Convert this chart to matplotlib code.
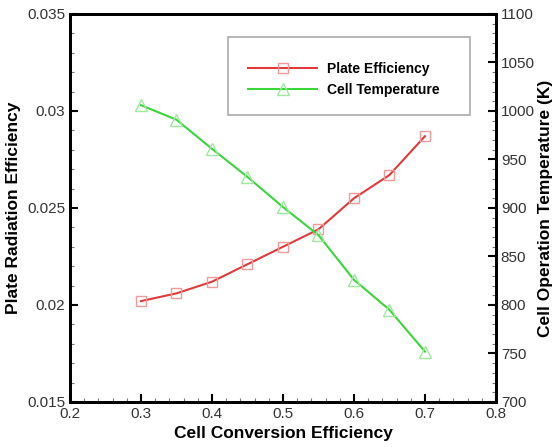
import matplotlib
matplotlib.use('Agg')
from matplotlib import pyplot as plt
from matplotlib.patches import Rectangle
from matplotlib.ticker import MultipleLocator

conversion = [0.3, 0.35, 0.4, 0.45, 0.5, 0.55, 0.6, 0.65, 0.7]
plate_eff = [0.0202, 0.0206, 0.0212, 0.0221, 0.0230, 0.0239, 0.0255, 0.0267, 0.0287]
cell_temp = [1006, 991, 961, 932, 901, 872, 826, 795, 752]

plt.rcParams['font.family'] = ['Liberation Sans', 'DejaVu Sans']


def main():
    fig = plt.figure(figsize=(5.58, 4.47), dpi=100)
    ax = fig.add_axes([0.1254, 0.1007, 0.7634, 0.868])
    ax2 = ax.twinx()

    l1, = ax.plot(conversion, plate_eff, color='#e03a3a', lw=1.5,
                  marker='s', ms=7.5, mfc='none', mec='#f29a9a', mew=1.0,
                  label='Plate Efficiency')
    l2, = ax2.plot(conversion, cell_temp, color='#3ad63a', lw=1.5,
                   marker='^', ms=8.5, mfc='none', mec='#9fe89f', mew=1.0,
                   label='Cell Temperature')

    ax.set_xlim(0.2, 0.8)
    ax.set_ylim(0.015, 0.035)
    ax2.set_ylim(700, 1100)
    ax.xaxis.set_minor_locator(MultipleLocator(0.02))
    ax.yaxis.set_minor_locator(MultipleLocator(0.001))
    ax2.yaxis.set_major_locator(MultipleLocator(50))
    ax2.yaxis.set_minor_locator(MultipleLocator(10))
    ax.set_xticks([0.2, 0.3, 0.4, 0.5, 0.6, 0.7, 0.8])
    ax.set_xticklabels(['0.2', '0.3', '0.4', '0.5', '0.6', '0.7', '0.8'])
    ax.set_yticks([0.015, 0.02, 0.025, 0.03, 0.035])
    ax.set_yticklabels(['0.015', '0.02', '0.025', '0.03', '0.035'])

    for a in (ax, ax2):
        a.tick_params(which='major', direction='in', length=6, width=1.5,
                      labelsize=11, labelcolor='#333333')
        a.tick_params(which='minor', direction='in', length=3, width=0.8,
                      color='#777777')
        for s in a.spines.values():
            s.set_linewidth(2)
    ax.tick_params(axis='x', which='both', top=False)

    ax.set_xlabel('Cell Conversion Efficiency', fontsize=12.5, fontweight='bold', labelpad=4)
    ax.set_ylabel('Plate Radiation Efficiency', fontsize=12.5, fontweight='bold', labelpad=4)
    ax2.set_ylabel('Cell Operation Temperature (K)', fontsize=12.5, fontweight='bold', labelpad=2)

    ax2.add_patch(Rectangle((0.371, 0.74), 0.568, 0.2, transform=ax2.transAxes,
                            fill=False, edgecolor='#aaaaaa', lw=1.2, zorder=5))
    ax2.legend(handles=[l1, l2], loc='upper left', bbox_to_anchor=(0.418, 0.877),
               frameon=False, handlelength=5.0, handletextpad=0.7,
               labelspacing=0.55, borderpad=0, borderaxespad=0,
               prop={'weight': 'bold', 'size': 10})

    fig.savefig('out.png', dpi=100)


if __name__ == '__main__':
    main()
